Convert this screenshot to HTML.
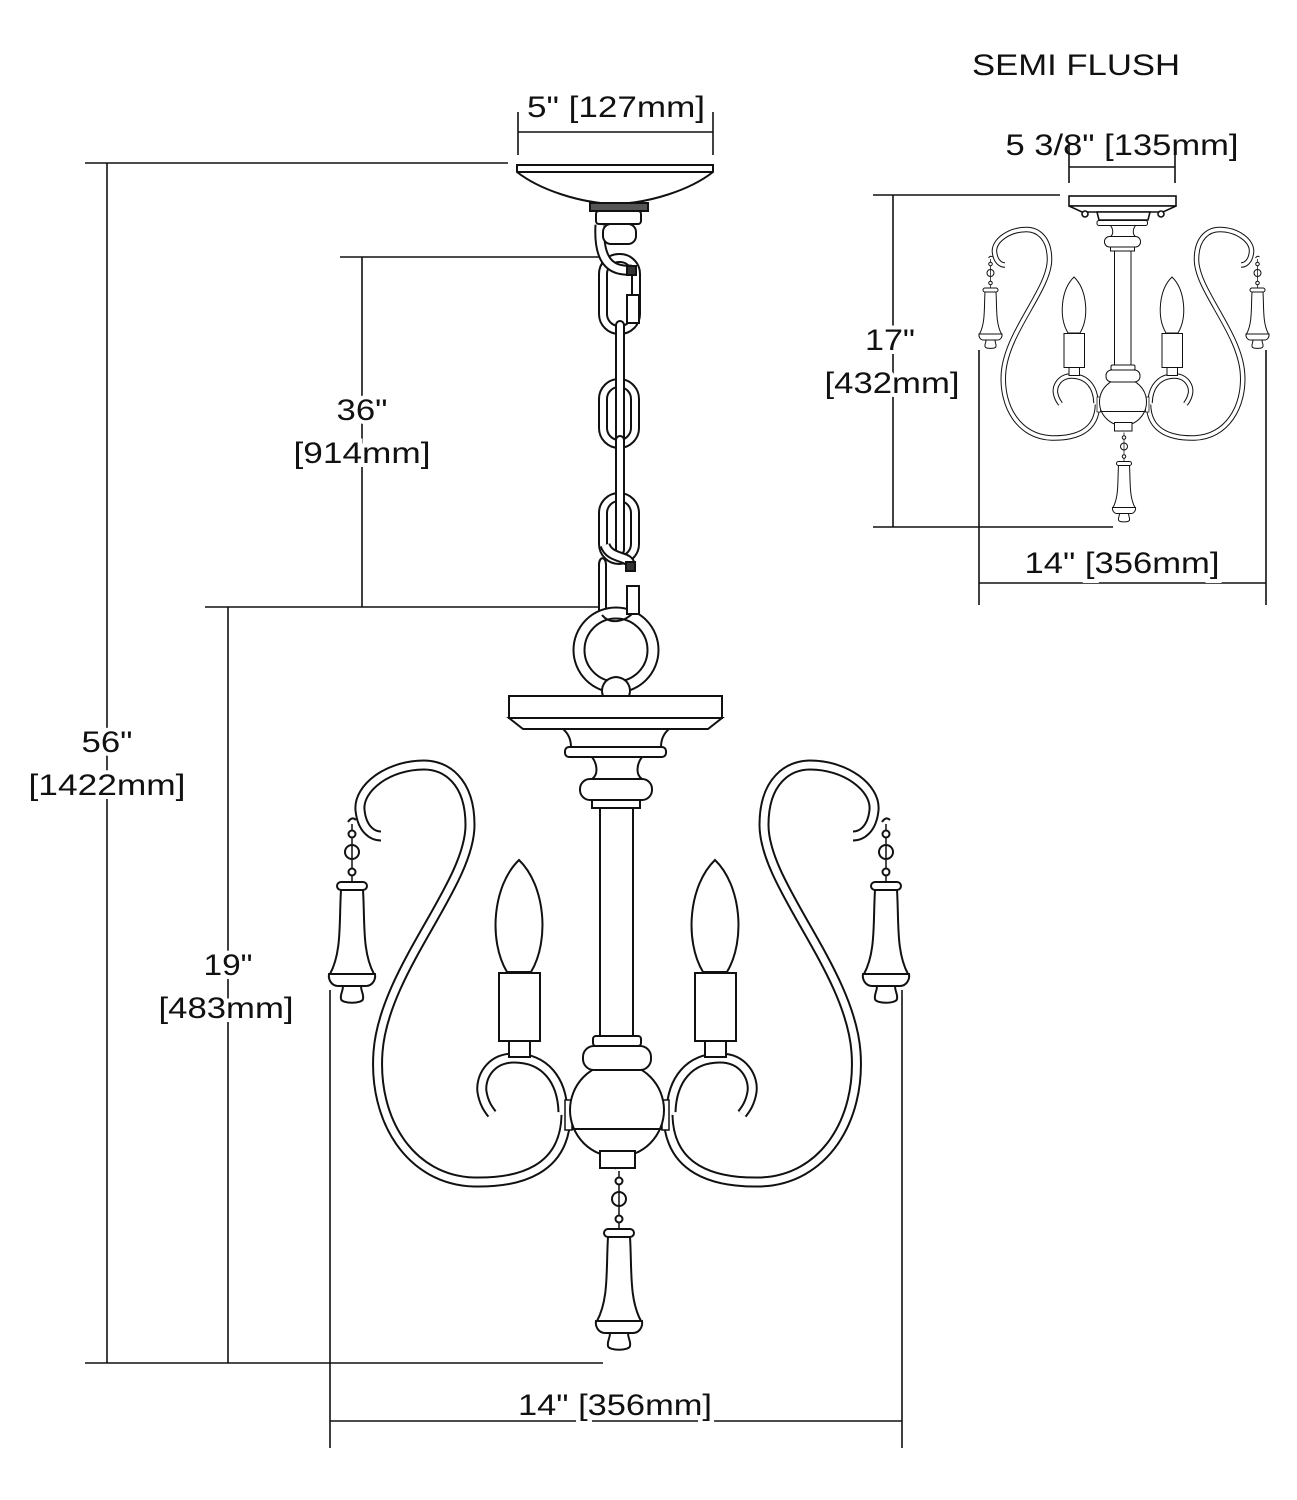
<!DOCTYPE html>
<html><head><meta charset="utf-8"><style>
html,body{margin:0;padding:0;background:#fff}
svg{display:block}
text{font-family:"Liberation Sans",Arial,sans-serif;font-size:30px;fill:#111}
</style></head><body>
<svg width="1297" height="1500" viewBox="0 0 1297 1500" xmlns="http://www.w3.org/2000/svg">
<defs>
<g id="pend" fill="#fff" stroke="#111" stroke-width="2">
  <line x1="0" y1="-58" x2="0" y2="0" stroke-width="1.5"/>
  <path d="M-4,-60 q4,-6 8,-2" fill="none"/>
  <circle cx="0" cy="-48" r="3.5" fill="#fff"/>
  <circle cx="0" cy="-30" r="7" fill="none"/>
  <circle cx="0" cy="-10" r="3.5"/>
  <rect x="-15" y="0" width="30" height="8" rx="4"/>
  <path d="M-11,8 C-13,40 -10,70 -22,92 L22,92 C10,70 13,40 11,8 Z"/>
  <path d="M-23,92 L23,92 C24,98 20,104 14,104 L-14,104 C-20,104 -24,98 -23,92 Z"/>
  <path d="M-9,104 C-9,110 -12,112 -11,117 C-10,122 10,122 11,117 C12,112 9,110 9,104 Z"/>
</g>
<g id="candle" fill="#fff" stroke="#111" stroke-width="2">
  <path d="M0,860 C-26,885 -31,940 -12,972 L12,972 C31,940 26,885 0,860 Z"/>
  <rect x="-20" y="973" width="41" height="68"/>
  <rect x="-10" y="1041" width="21" height="16"/>
</g>
<g id="arm" fill="none">
  <path id="armp" d="M566,1115 C565,1170 520,1183 474,1182 C410,1180 373,1120 378,1052 C384,970 470,885 470,825 C470,780 445,765 424,765 C388,765 358,788 360,810 C362,830 373,836 381,836"/>
  <use href="#armp" stroke="#111" stroke-width="11"/>
  <use href="#armp" stroke="#fff" stroke-width="7"/>
  <path id="cp" d="M563,1112 C562,1080 545,1058 514,1058 C490,1058 480,1078 482,1092 C484,1104 489,1110 492,1114"/>
  <use href="#cp" stroke="#111" stroke-width="11"/>
  <use href="#cp" stroke="#fff" stroke-width="7"/>
  <rect x="565" y="1100" width="7" height="30" fill="#fff" stroke="#111" stroke-width="1.5"/>
</g>
<g id="body">
  <use href="#arm"/>
  <use href="#arm" transform="translate(1234,0) scale(-1,1)"/>
  <use href="#candle" transform="translate(519,0)"/>
  <use href="#candle" transform="translate(715,0)"/>
  <use href="#pend" transform="translate(352,882)"/>
  <use href="#pend" transform="translate(886,882)"/>
  <use href="#pend" transform="translate(619,1229)"/>
  <g fill="#fff" stroke="#111" stroke-width="2">
    <rect x="565" y="747" width="101" height="10" rx="4"/>
    <path d="M592,757 C598,765 598,775 592,779 L642,779 C636,775 636,765 642,757 Z"/>
    <rect x="580" y="779" width="72" height="21" rx="10"/>
    <rect x="592" y="800" width="48" height="8"/>
    <rect x="600" y="808" width="33" height="230"/>
    <circle cx="617" cy="1110" r="47"/>
    <line x1="572" y1="1129" x2="662" y2="1129"/>
    <rect x="593" y="1036" width="48" height="10" rx="3"/>
    <rect x="583" y="1046" width="68" height="24" rx="11"/>
    <rect x="600" y="1151" width="35" height="17"/>
  </g>
</g>
</defs>

<!-- main top: canopy and chain -->
<g fill="#fff" stroke="#111" stroke-width="2">
  <path d="M517,165 L713,165 L713,172 C690,190 650,203 615,204 C580,203 540,190 517,172 Z"/>
  <line x1="517" y1="172" x2="713" y2="172"/>
  <rect x="590" y="203" width="58" height="8" fill="#555"/>
  <rect x="596" y="211" width="45" height="13" rx="3"/>
  <rect x="599" y="254" width="41" height="80" rx="20"/>
  <rect x="607" y="262" width="25" height="64" rx="12"/>
  <path d="M600,225 C598,260 610,272 632,270" fill="none" stroke-width="11"/>
  <path d="M600,225 C598,260 610,272 632,270" fill="none" stroke="#fff" stroke-width="7"/>
  <rect x="603" y="224" width="33" height="20" rx="8"/>
  <rect x="627" y="266" width="9" height="9" fill="#333"/>
  <rect x="627" y="295" width="12" height="28"/>
  <rect x="599" y="379" width="40" height="69" rx="20"/>
  <rect x="607" y="387" width="24" height="53" rx="12"/>
  <rect x="616" y="321" width="8" height="122" rx="4"/>
  <rect x="599" y="493" width="40" height="71" rx="20"/>
  <rect x="607" y="501" width="24" height="55" rx="12"/>
  <rect x="616" y="436" width="8" height="118" rx="4"/>
  <path d="M605,545 C610,560 630,555 630,565" fill="none" stroke-width="11"/>
  <path d="M605,545 C610,560 630,555 630,565" fill="none" stroke="#fff" stroke-width="7"/>
  <rect x="626" y="562" width="9" height="9" fill="#333"/>
  <path d="M599,611 L599,565 C599,556 606,556 606,565 L606,611" />
  <circle cx="616" cy="650" r="42.5"/>
  <circle cx="616" cy="650" r="31.5"/>
  <path d="M602,615 C610,625 625,622 634,612" fill="none"/>
  <rect x="627" y="586" width="12" height="28"/>
  <path d="M603,696 C600,688 604,678 616,677 C628,678 632,688 629,696 Z"/>
  <rect x="509" y="696" width="213" height="22"/>
  <path d="M509,718 L523,729 L708,729 L722,718 Z"/>
  <path d="M563,729 C570,735 571,742 571,747 L661,747 C661,742 662,735 669,729 Z"/>
</g>
<use href="#body"/>

<!-- semi flush -->
<g fill="#fff" stroke="#111" stroke-width="1.6">
  <rect x="1069" y="196" width="107" height="10"/>
  <path d="M1069,206 L1082,212 L1163,212 L1176,206 Z"/>
  <circle cx="1085" cy="214" r="3"/>
  <circle cx="1161" cy="214" r="3"/>
  <path d="M1097,212 L1150,212 L1148,220 L1099,220 Z"/>
</g>
<use href="#body" transform="translate(814.5,-153) scale(0.5)"/>

<!-- dimension lines -->
<g stroke="#111" stroke-width="1.6" fill="none">
  <line x1="518" y1="112" x2="518" y2="155"/>
  <line x1="713" y1="112" x2="713" y2="155"/>
  <line x1="518" y1="132" x2="713" y2="132"/>
  <line x1="85" y1="163" x2="508" y2="163"/>
  <line x1="107" y1="163" x2="107" y2="1363"/>
  <line x1="85" y1="1363" x2="603" y2="1363"/>
  <line x1="340" y1="257" x2="600" y2="257"/>
  <line x1="362" y1="257" x2="362" y2="607"/>
  <line x1="205" y1="607" x2="600" y2="607"/>
  <line x1="228" y1="607" x2="228" y2="1363"/>
  <line x1="330" y1="990" x2="330" y2="1448"/>
  <line x1="902" y1="990" x2="902" y2="1448"/>
  <line x1="330" y1="1421" x2="902" y2="1421"/>
  <line x1="1069" y1="142" x2="1069" y2="183"/>
  <line x1="1175" y1="142" x2="1175" y2="183"/>
  <line x1="1069" y1="167" x2="1175" y2="167"/>
  <line x1="873" y1="195" x2="1060" y2="195"/>
  <line x1="893" y1="195" x2="893" y2="527"/>
  <line x1="873" y1="527" x2="1113" y2="527"/>
  <line x1="979" y1="350" x2="979" y2="605"/>
  <line x1="1266" y1="350" x2="1266" y2="605"/>
  <line x1="979" y1="583" x2="1266" y2="583"/>
</g>

<g text-anchor="middle" style="paint-order:stroke" stroke="#fff" stroke-width="8">
  <text x="616" y="117" textLength="178" lengthAdjust="spacingAndGlyphs" stroke="none">5" [127mm]</text>
  <text x="1076" y="75" textLength="208" lengthAdjust="spacingAndGlyphs" stroke="none">SEMI FLUSH</text>
  <text x="1122" y="155" textLength="233" lengthAdjust="spacingAndGlyphs" stroke="none">5 3/8" [135mm]</text>
  <text x="362" y="420" textLength="51" lengthAdjust="spacingAndGlyphs">36"</text>
  <text x="362" y="463" textLength="137" lengthAdjust="spacingAndGlyphs">[914mm]</text>
  <text x="107" y="752" textLength="51" lengthAdjust="spacingAndGlyphs">56"</text>
  <text x="107" y="795" textLength="157" lengthAdjust="spacingAndGlyphs">[1422mm]</text>
  <text x="228" y="975" textLength="49" lengthAdjust="spacingAndGlyphs">19"</text>
  <text x="226" y="1018" textLength="135" lengthAdjust="spacingAndGlyphs">[483mm]</text>
  <text x="615" y="1415" textLength="194" lengthAdjust="spacingAndGlyphs">14" [356mm]</text>
  <text x="890" y="350" textLength="50" lengthAdjust="spacingAndGlyphs">17"</text>
  <text x="892" y="393" textLength="135" lengthAdjust="spacingAndGlyphs">[432mm]</text>
  <text x="1122" y="573" textLength="195" lengthAdjust="spacingAndGlyphs">14" [356mm]</text>
</g>
</svg>
</body></html>
